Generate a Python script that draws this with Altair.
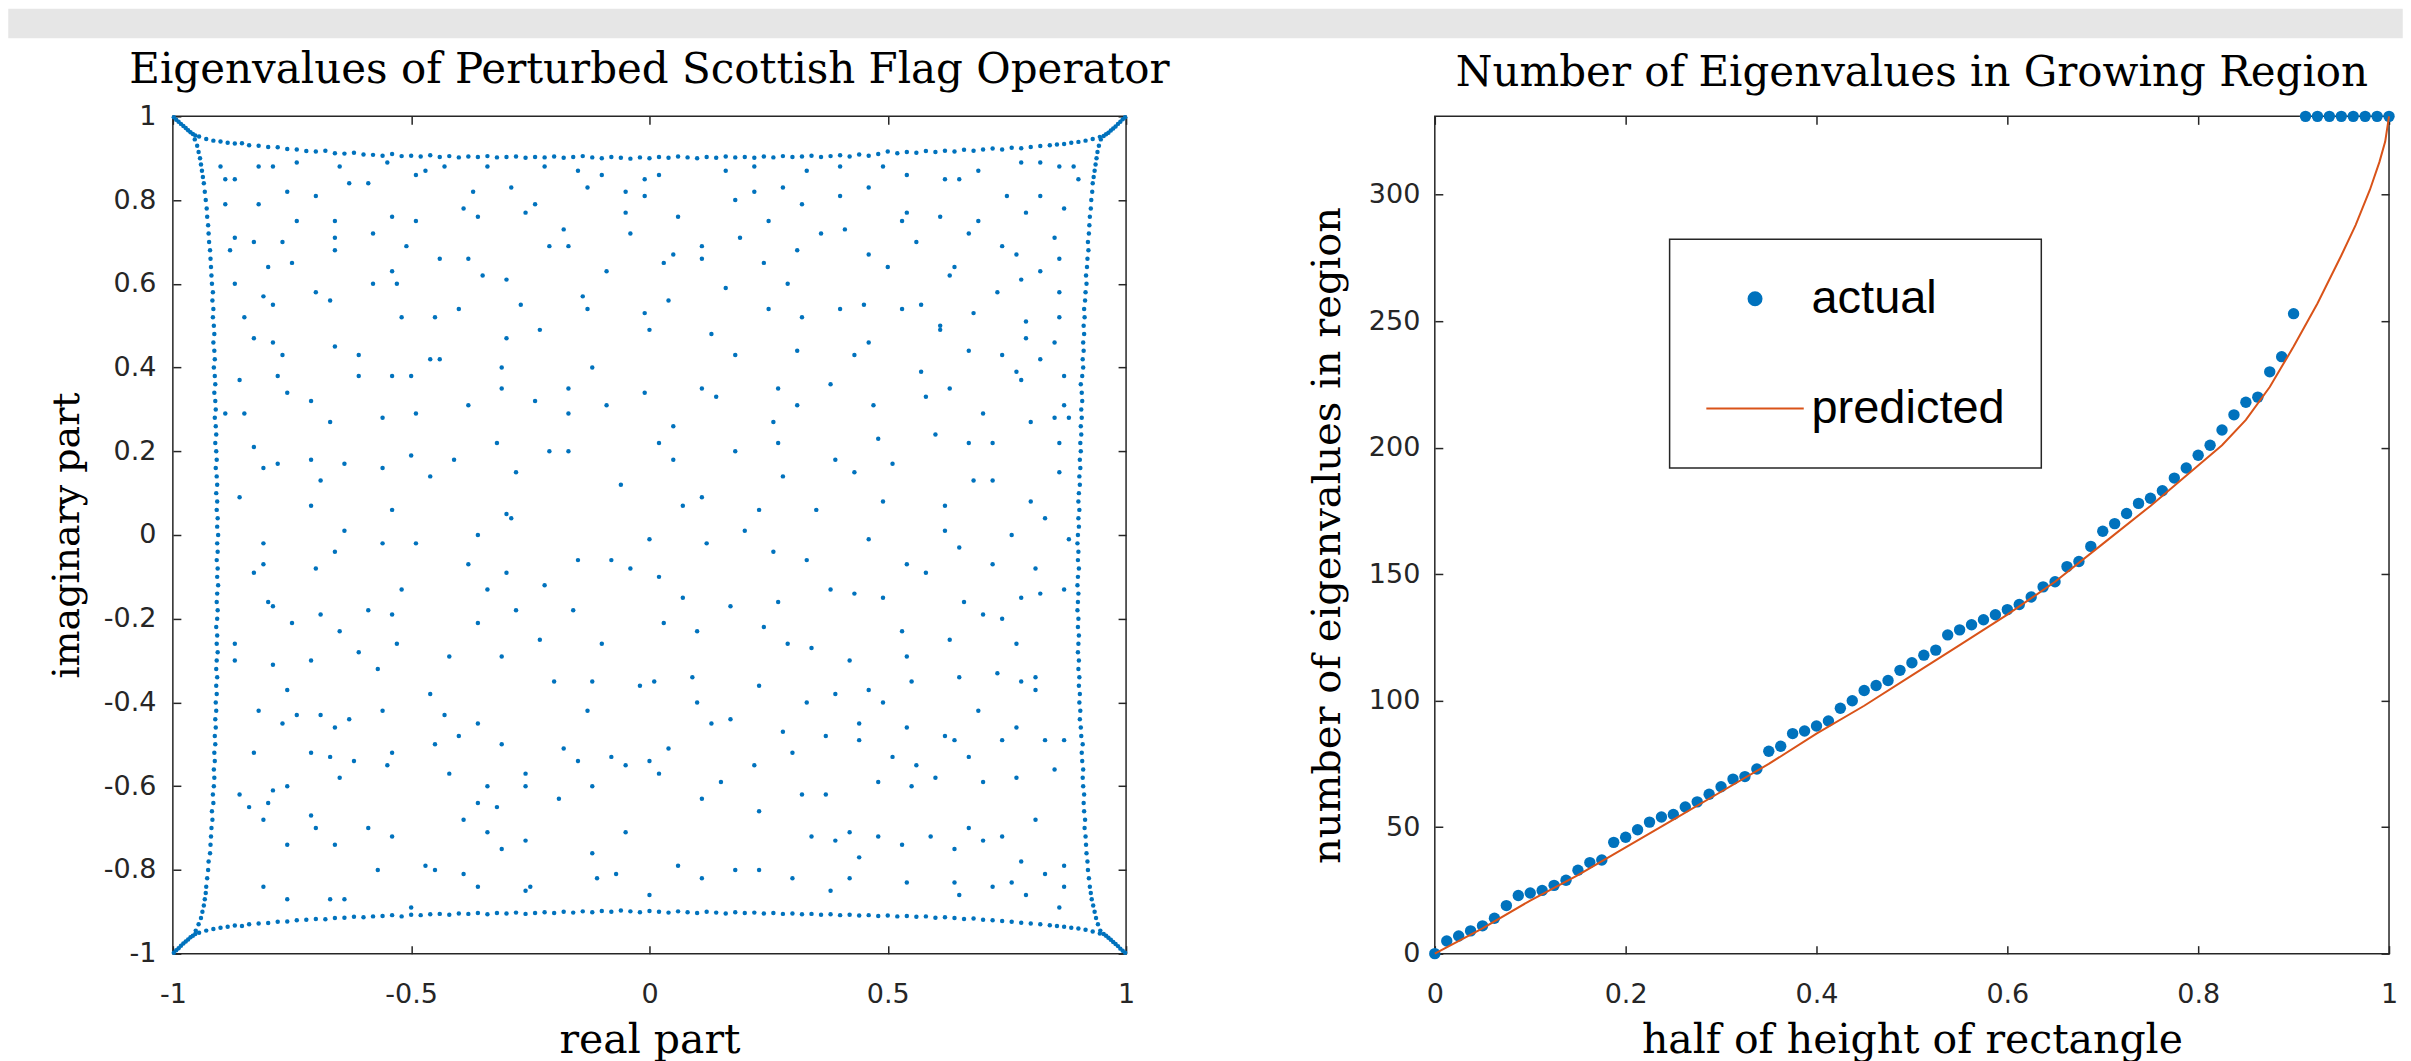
import altair as alt
import pandas as pd

# ---------------- left panel: eigenvalues ----------------
UPPER_RE = [
    -0.90, -0.89, -0.87, -0.82, -0.79, -0.74, -0.65, -0.55, -0.49, -0.47, -0.43, -0.34, -0.22, -0.15, -0.10, -0.01,
    0.02, 0.16, 0.22, 0.33, 0.40, 0.49, 0.54, 0.62, 0.65, 0.69, 0.78, 0.82, 0.86, 0.89, 0.90,
    -0.76, -0.70, -0.82, -0.89, -0.63, -0.59, -0.37, -0.29, -0.39, -0.36, -0.26, -0.24, -0.13, -0.05, -0.01, -0.05,
    0.06, 0.18, 0.22, 0.28, 0.32, 0.40, 0.46, 0.53, 0.54, 0.61, 0.69, 0.75, 0.82, 0.87, 0.79,
    -0.74, -0.66, -0.54, -0.49, -0.58, -0.51, -0.66, -0.66, -0.77, -0.83, -0.87, -0.88, -0.18, -0.17, -0.21, -0.04,
    0.05, 0.11, 0.25, 0.19, 0.31, 0.36, 0.41, 0.46, 0.56, 0.67, 0.74, 0.77, 0.85,
    -0.80, -0.75, -0.54, -0.44, -0.38, -0.35, -0.30, -0.09, 0.03, 0.11, 0.24, 0.29, 0.50, 0.63, 0.64, 0.82,
    0.86, 0.73, 0.86, 0.78, 0.16, -0.87, -0.70, -0.58, -0.53, -0.67,
    -0.81, -0.85, -0.79, -0.52, -0.45, -0.40, -0.27, -0.14, -0.13, 0.04, -0.01, 0.00, 0.25, 0.32, 0.40, 0.45,
    0.53, 0.57, 0.61, 0.68, 0.79, 0.86, 0.79,
    -0.83, -0.79, -0.77, -0.66, -0.61, -0.46, -0.44, -0.50, -0.30, -0.23, -0.12, 0.13, 0.18, 0.31, 0.46, 0.43,
    0.61, 0.57, 0.67, 0.77, 0.82, 0.87, 0.74, 0.85, -0.61,
    -0.86, -0.78, -0.76, -0.71, -0.67, -0.54, -0.56, -0.49, -0.38, -0.31, -0.31, -0.17, -0.24, -0.17, -0.09, -0.01,
    0.11, 0.14, 0.27, 0.31, 0.38, 0.47, 0.58, 0.63, 0.70, 0.78, 0.85, 0.87,
    -0.89, -0.85, -0.83, -0.78, -0.71, -0.64, -0.56, -0.50, -0.41, -0.32, -0.21, -0.17, 0.02, 0.05, 0.05, 0.18,
    0.26, 0.27, 0.48, 0.60, 0.67, 0.72, 0.80, 0.86, 0.88,
    -0.86, -0.81, -0.71, -0.69, -0.64, -0.54, -0.46, -0.30, -0.29, -0.28, -0.06, 0.07, 0.11, 0.20, 0.23, 0.28,
    0.35, 0.39, 0.43, 0.49, 0.51, 0.62, 0.62, 0.68, 0.72, 0.80, 0.83, 0.86,
]
UPPER_IM = [
    0.88, 0.85, 0.85, 0.88, 0.88, 0.89, 0.88, 0.89, 0.86, 0.87, 0.88, 0.88, 0.88, 0.87, 0.86, 0.85,
    0.86, 0.87, 0.88, 0.87, 0.88, 0.88, 0.86, 0.85, 0.85, 0.87, 0.89, 0.89, 0.88, 0.88, 0.85,
    0.82, 0.81, 0.79, 0.79, 0.84, 0.84, 0.82, 0.83, 0.78, 0.76, 0.77, 0.79, 0.83, 0.82, 0.81, 0.77,
    0.76, 0.80, 0.82, 0.83, 0.79, 0.81, 0.83, 0.75, 0.77, 0.76, 0.75, 0.81, 0.81, 0.78, 0.77,
    0.75, 0.75, 0.76, 0.75, 0.72, 0.69, 0.71, 0.68, 0.70, 0.70, 0.71, 0.68, 0.73, 0.69, 0.69, 0.72,
    0.67, 0.69, 0.75, 0.71, 0.68, 0.72, 0.73, 0.67, 0.70, 0.72, 0.69, 0.67, 0.71,
    0.64, 0.65, 0.63, 0.66, 0.66, 0.62, 0.61, 0.63, 0.65, 0.66, 0.65, 0.60, 0.64, 0.62, 0.64, 0.63,
    0.66, 0.58, 0.58, 0.61, 0.59, 0.60, 0.58, 0.60, 0.60, 0.56,
    0.57, 0.52, 0.55, 0.52, 0.52, 0.54, 0.55, 0.57, 0.54, 0.56, 0.53, 0.49, 0.54, 0.52, 0.54, 0.55,
    0.54, 0.55, 0.50, 0.53, 0.51, 0.52, 0.47,
    0.47, 0.46, 0.43, 0.45, 0.43, 0.42, 0.42, 0.38, 0.47, 0.49, 0.40, 0.48, 0.43, 0.44, 0.46, 0.43,
    0.49, 0.39, 0.44, 0.39, 0.42, 0.38, 0.43, 0.46, 0.38,
    0.37, 0.38, 0.34, 0.32, 0.27, 0.38, 0.28, 0.29, 0.31, 0.40, 0.35, 0.35, 0.32, 0.29, 0.31, 0.34,
    0.35, 0.33, 0.35, 0.31, 0.36, 0.31, 0.33, 0.35, 0.29, 0.37, 0.28, 0.31,
    0.29, 0.29, 0.21, 0.17, 0.18, 0.17, 0.16, 0.19, 0.18, 0.22, 0.20, 0.20, 0.22, 0.26, 0.18, 0.20,
    0.27, 0.22, 0.23, 0.24, 0.22, 0.22, 0.27, 0.22, 0.28,
    0.09, 0.16, 0.07, 0.13, 0.01, 0.06, 0.14, 0.05, 0.04, 0.15, 0.12, 0.07, 0.09, 0.01, 0.06, 0.14,
    0.06, 0.18, 0.15, 0.08, 0.17, 0.07, 0.01, 0.13, 0.13, 0.08, 0.04, 0.15,
]
LOWER_RE = [
    -0.81, -0.66, -0.56, -0.49, -0.36, -0.38, -0.30, -0.15, -0.08, -0.04, 0.00, 0.02, 0.12, 0.26, 0.33, 0.46,
    0.54, 0.58, 0.65, 0.72, 0.76, 0.81, 0.88, -0.83, -0.81, -0.70,
    -0.80, -0.79, -0.75, -0.69, -0.65, -0.59, -0.54, -0.52, -0.34, -0.36, -0.28, -0.22, -0.16, 0.07, 0.03, 0.17,
    0.24, 0.27, 0.38, 0.43, 0.49, 0.53, 0.66, 0.70, 0.74, 0.78, 0.82, 0.87,
    -0.87, -0.87, -0.79, -0.76, -0.71, -0.61, -0.57, -0.53, -0.42, -0.31, -0.23, -0.20, -0.12, -0.10, -0.02, 0.01,
    0.10, 0.09, 0.23, 0.29, 0.34, 0.33, 0.42, 0.54, 0.55, 0.63, 0.65, 0.73, 0.78, 0.81, 0.77,
    -0.82, -0.77, -0.74, -0.69, -0.67, -0.63, -0.62, -0.56, -0.54, -0.46, -0.43, -0.36, -0.31, -0.26, -0.18, -0.15,
    -0.13, -0.08, 0.00, 0.10, 0.13, 0.17, 0.22, 0.28, 0.30, 0.37, 0.39, 0.44, 0.44, 0.46, 0.49, 0.54,
    0.56, 0.62, 0.67, 0.69, 0.74, 0.77, 0.81, 0.87,
    -0.79, -0.76, -0.83, -0.71, -0.65, -0.66, -0.55, -0.45, -0.42, -0.40, -0.32, -0.34, -0.26, -0.19, -0.12, -0.05,
    0.02, 0.04, 0.11, 0.15, 0.23, 0.32, 0.37, 0.48, 0.51, 0.55, 0.60, 0.64, 0.70, 0.77, 0.85, 0.83,
    -0.86, -0.80, -0.84, -0.81, -0.76, -0.70, -0.71, -0.66, -0.59, -0.54, -0.57, -0.47, -0.45, -0.39, -0.39, -0.36,
    -0.34, -0.26, -0.31, -0.26, -0.12, -0.11, -0.05, -0.07, 0.00, 0.06, 0.11, 0.18, 0.23, 0.30, 0.34, 0.39,
    0.42, 0.44, 0.48, 0.53, 0.59, 0.64, 0.67, 0.70, 0.74, 0.78, 0.81, 0.87, 0.83,
    -0.81, -0.76, -0.67, -0.64, -0.50, -0.36, -0.25, 0.38, 0.42, 0.54, 0.64, 0.65, 0.72, 0.76, 0.79, 0.86, 0.87,
]
LOWER_IM = [
    -0.02, -0.04, -0.02, -0.02, 0.00, -0.07, -0.09, -0.06, -0.06, -0.08, -0.01, -0.10, -0.02, -0.04, -0.06, -0.01,
    -0.07, -0.09, -0.03, -0.07, 0.00, -0.08, -0.01, -0.09, -0.07, -0.08,
    -0.16, -0.17, -0.21, -0.19, -0.23, -0.18, -0.19, -0.13, -0.13, -0.21, -0.18, -0.12, -0.18, -0.15, -0.21, -0.17,
    -0.22, -0.16, -0.13, -0.14, -0.15, -0.23, -0.16, -0.19, -0.20, -0.15, -0.14, -0.13,
    -0.26, -0.30, -0.31, -0.37, -0.30, -0.28, -0.32, -0.26, -0.29, -0.29, -0.25, -0.35, -0.35, -0.26, -0.36, -0.35,
    -0.23, -0.34, -0.36, -0.26, -0.27, -0.40, -0.30, -0.29, -0.35, -0.25, -0.34, -0.33, -0.35, -0.34, -0.26,
    -0.42, -0.45, -0.43, -0.43, -0.53, -0.44, -0.54, -0.42, -0.52, -0.38, -0.43, -0.45, -0.50, -0.57, -0.51, -0.54,
    -0.42, -0.53, -0.54, -0.40, -0.45, -0.44, -0.55, -0.47, -0.52, -0.48, -0.38, -0.45, -0.49, -0.37, -0.40, -0.46,
    -0.55, -0.48, -0.53, -0.42, -0.49, -0.46, -0.37, -0.49,
    -0.61, -0.60, -0.52, -0.52, -0.58, -0.46, -0.55, -0.50, -0.57, -0.48, -0.65, -0.60, -0.60, -0.63, -0.60, -0.55,
    -0.57, -0.51, -0.63, -0.59, -0.66, -0.62, -0.62, -0.59, -0.53, -0.60, -0.58, -0.49, -0.59, -0.58, -0.56, -0.49,
    -0.62, -0.64, -0.65, -0.68, -0.74, -0.70, -0.67, -0.74, -0.70, -0.72, -0.80, -0.79, -0.80, -0.81, -0.68, -0.64,
    -0.71, -0.73, -0.75, -0.85, -0.76, -0.82, -0.71, -0.81, -0.86, -0.79, -0.82, -0.80, -0.80, -0.82, -0.72, -0.73,
    -0.71, -0.77, -0.72, -0.74, -0.72, -0.75, -0.70, -0.73, -0.72, -0.78, -0.68, -0.79, -0.81,
    -0.84, -0.87, -0.87, -0.87, -0.89, -0.84, -0.84, -0.85, -0.82, -0.83, -0.83, -0.86, -0.84, -0.83, -0.86, -0.89, -0.84,
]

# positions along the four crowded edges (x for top/bottom, y for left/right)
EDGE_POS = [
    -0.945, -0.93, -0.915, -0.9, -0.885, -0.87, -0.855, -0.84,
    -0.82, -0.80, -0.78, -0.76, -0.74, -0.72, -0.70, -0.68, -0.66, -0.64, -0.62, -0.60, -0.58, -0.56, -0.54,
    -0.52, -0.50, -0.48, -0.46, -0.44, -0.42, -0.40, -0.38, -0.36, -0.34, -0.32, -0.30, -0.28, -0.26, -0.24,
    -0.22, -0.20, -0.18, -0.16, -0.14, -0.12, -0.10, -0.08, -0.06, -0.04, -0.02,
    0.00,
    0.02, 0.04, 0.06, 0.08, 0.10, 0.12, 0.14, 0.16, 0.18, 0.20, 0.22, 0.24, 0.26, 0.28, 0.30, 0.32, 0.34,
    0.36, 0.38, 0.40, 0.42, 0.44, 0.46, 0.48, 0.50, 0.52, 0.54, 0.56, 0.58, 0.60, 0.62, 0.64, 0.66, 0.68,
    0.70, 0.72, 0.74, 0.76, 0.78, 0.80, 0.82,
    0.84, 0.855, 0.87, 0.885, 0.90, 0.915, 0.93, 0.945,
]
TOP_IM = [
    0.952, 0.946, 0.942, 0.940, 0.937, 0.935, 0.936, 0.931,
    0.930, 0.927, 0.926, 0.922, 0.921, 0.917, 0.916, 0.918, 0.912, 0.911, 0.913, 0.909, 0.908, 0.906, 0.910,
    0.905, 0.906, 0.904, 0.907, 0.903, 0.905, 0.902, 0.904, 0.903, 0.905, 0.902, 0.903, 0.904, 0.901, 0.903,
    0.902, 0.904, 0.901, 0.903, 0.905, 0.902, 0.900, 0.903, 0.901, 0.899, 0.902,
    0.900,
    0.903, 0.901, 0.904, 0.902, 0.900, 0.903, 0.901, 0.904, 0.902, 0.903, 0.901, 0.904, 0.902, 0.905, 0.903,
    0.904, 0.906, 0.903, 0.905, 0.907, 0.904, 0.909, 0.906, 0.910, 0.916, 0.912, 0.915, 0.913, 0.917, 0.915,
    0.918, 0.916, 0.920, 0.918, 0.921, 0.923, 0.921, 0.925, 0.924, 0.927, 0.929,
    0.931, 0.933, 0.934, 0.937, 0.939, 0.942, 0.946, 0.951,
]
BOTTOM_IM = [
    -0.950, -0.945, -0.941, -0.938, -0.936, -0.933, -0.934, -0.930,
    -0.928, -0.927, -0.924, -0.923, -0.920, -0.919, -0.917, -0.918, -0.915, -0.914, -0.912, -0.913, -0.911,
    -0.910, -0.908, -0.911, -0.907, -0.908, -0.906, -0.905, -0.907, -0.904, -0.905, -0.903, -0.906, -0.903,
    -0.904, -0.902, -0.905, -0.903, -0.901, -0.903, -0.900, -0.902, -0.899, -0.901, -0.898, -0.900, -0.897,
    -0.899, -0.901,
    -0.898,
    -0.900, -0.902, -0.899, -0.901, -0.903, -0.900, -0.902, -0.904, -0.901, -0.903, -0.902, -0.904, -0.903,
    -0.905, -0.904, -0.906, -0.905, -0.907, -0.906, -0.908, -0.907, -0.909, -0.908, -0.910, -0.909, -0.911,
    -0.910, -0.912, -0.911, -0.914, -0.913, -0.915, -0.917, -0.916, -0.919, -0.920, -0.922, -0.924, -0.926,
    -0.928, -0.930,
    -0.932, -0.934, -0.936, -0.938, -0.940, -0.943, -0.947, -0.952,
]
LEFT_RE = [
    -0.952, -0.946, -0.941, -0.938, -0.935, -0.933, -0.931, -0.930,
    -0.928, -0.926, -0.925, -0.922, -0.921, -0.920, -0.919, -0.917, -0.918, -0.915, -0.916, -0.914, -0.913,
    -0.914, -0.912, -0.913, -0.911, -0.912, -0.910, -0.911, -0.909, -0.910, -0.908, -0.909, -0.907, -0.909,
    -0.908, -0.906, -0.908, -0.907, -0.909, -0.907, -0.906, -0.908, -0.907, -0.905, -0.907, -0.906, -0.908,
    -0.906, -0.907,
    -0.905,
    -0.907, -0.906, -0.908, -0.907, -0.909, -0.907, -0.908, -0.910, -0.908, -0.909, -0.911, -0.909, -0.910,
    -0.912, -0.910, -0.911, -0.913, -0.911, -0.912, -0.914, -0.912, -0.913, -0.915, -0.913, -0.914, -0.916,
    -0.915, -0.917, -0.916, -0.918, -0.919, -0.920, -0.921, -0.922, -0.924, -0.925, -0.926, -0.928, -0.929,
    -0.931, -0.933,
    -0.935, -0.937, -0.939, -0.941, -0.943, -0.946, -0.949, -0.954,
]
RIGHT_RE = [
    0.946, 0.941, 0.937, 0.934, 0.931, 0.928, 0.926, 0.924,
    0.922, 0.920, 0.919, 0.917, 0.916, 0.915, 0.913, 0.914, 0.912, 0.911, 0.912, 0.910, 0.909, 0.910, 0.908,
    0.907, 0.909, 0.906, 0.905, 0.903, 0.904, 0.902, 0.903, 0.901, 0.902, 0.900, 0.901, 0.899, 0.900, 0.901,
    0.899, 0.900, 0.898, 0.899, 0.900, 0.898, 0.899, 0.901, 0.899, 0.900, 0.898,
    0.899,
    0.901, 0.900, 0.902, 0.900, 0.901, 0.903, 0.902, 0.904, 0.903, 0.905, 0.904, 0.906, 0.905, 0.907, 0.906,
    0.908, 0.907, 0.905, 0.908, 0.910, 0.909, 0.911, 0.910, 0.912, 0.911, 0.913, 0.912, 0.914, 0.915, 0.917,
    0.916, 0.918, 0.919, 0.921, 0.920, 0.922, 0.923, 0.924, 0.926, 0.927, 0.929,
    0.930, 0.932, 0.934, 0.936, 0.938, 0.940, 0.943, 0.947,
]
CORNER_RE = [
    -0.998, -0.993, -0.988, -0.983, -0.978, -0.973, -0.968, -0.963, -0.958, -0.953,
    0.998, 0.993, 0.988, 0.983, 0.978, 0.973, 0.968, 0.963, 0.958, 0.953,
    -0.998, -0.993, -0.988, -0.983, -0.978, -0.973, -0.968, -0.963, -0.958, -0.953,
    0.998, 0.993, 0.988, 0.983, 0.978, 0.973, 0.968, 0.963, 0.958, 0.953,
]
CORNER_IM = [
    0.998, 0.992, 0.987, 0.982, 0.977, 0.972, 0.967, 0.962, 0.958, 0.954,
    0.998, 0.993, 0.987, 0.982, 0.976, 0.971, 0.966, 0.961, 0.957, 0.953,
    -0.998, -0.992, -0.987, -0.981, -0.976, -0.971, -0.966, -0.961, -0.957, -0.953,
    -0.998, -0.993, -0.988, -0.982, -0.977, -0.972, -0.967, -0.962, -0.957, -0.953,
]

# ---------------- right panel ----------------
ACTUAL_H = [
    0, 0.0125, 0.025, 0.0375, 0.05, 0.0625, 0.075, 0.0875, 0.1, 0.1125, 0.125, 0.1375, 0.15, 0.1625, 0.175,
    0.1875, 0.2, 0.2125, 0.225, 0.2375, 0.25, 0.2625, 0.275, 0.2875, 0.3, 0.3125, 0.325, 0.3375, 0.35, 0.3625,
    0.375, 0.3875, 0.4, 0.4125, 0.425, 0.4375, 0.45, 0.4625, 0.475, 0.4875, 0.5, 0.5125, 0.525, 0.5375, 0.55,
    0.5625, 0.575, 0.5875, 0.6, 0.6125, 0.625, 0.6375, 0.65, 0.6625, 0.675, 0.6875, 0.7, 0.7125, 0.725, 0.7375,
    0.75, 0.7625, 0.775, 0.7875, 0.8, 0.8125, 0.825, 0.8375, 0.85, 0.8625, 0.875, 0.8875, 0.9, 0.9125, 0.925,
    0.9375, 0.95, 0.9625, 0.975, 0.9875, 1.0,
]
ACTUAL_N = [
    0, 5, 7, 9, 11, 14, 19, 23, 24, 25, 27, 29, 33, 36, 37, 44, 46, 49, 52, 54,
    55, 58, 60, 63, 66, 69, 70, 73, 80, 82, 87, 88, 90, 92, 97, 100, 104, 106, 108, 112,
    115, 118, 120, 126, 128, 130, 132, 134, 136, 138, 141, 145, 147, 153, 155, 161, 167, 170, 174, 178,
    180, 183, 188, 192, 197, 201, 207, 213, 218, 220, 230, 236, 253,
    331, 331, 331, 331, 331, 331, 331, 331,
]
PRED_H = [0, 0.05, 0.1, 0.15, 0.2, 0.25, 0.3, 0.35, 0.4, 0.45, 0.5, 0.55, 0.6, 0.65, 0.7, 0.75, 0.8,
          0.825, 0.85, 0.875, 0.9, 0.925, 0.95, 0.965, 0.98, 0.99, 0.996, 1.0]
PRED_N = [0, 10, 21, 31, 42, 53, 64, 75, 87, 98, 110, 122, 134, 147, 162, 177, 193,
          201, 211, 224, 240, 257, 276, 288, 302, 313, 321, 331]
SERIES = ["actual", "predicted"]

X1_TICKS = [-1, -0.5, 0, 0.5, 1]
Y1_TICKS = [-1, -0.8, -0.6, -0.4, -0.2, 0, 0.2, 0.4, 0.6, 0.8, 1]
X2_TICKS = [0, 0.2, 0.4, 0.6, 0.8, 1]
Y2_TICKS = [0, 50, 100, 150, 200, 250, 300]
ANCHOR = [0.0]

# ---------------- style ----------------
BLUE = "#0072BD"
ORANGE = "#D95319"
INK = "#262626"
BAND = "#e6e6e6"
W1, W2, H = 954, 955, 838
TICK_LEN = 8
LABEL_EXPR = "replace(format(datum.value, '~g'), '\u2212', '-')"


def label_axis(orient, values, title, label_pad, title_pad, title_size):
    return alt.Axis(
        orient=orient, values=values, labelExpr=LABEL_EXPR, ticks=False, tickSize=0,
        domain=False, grid=False, labelFont="DejaVu Sans", labelFontSize=27, labelColor=INK,
        labelPadding=label_pad, labelFlush=False, labelOverlap=False,
        title=title, titleFont="DejaVu Serif", titleFontSize=title_size, titleFontWeight="normal",
        titleColor="black", titlePadding=title_pad,
    )


def tick_axis(orient, values, offset):
    return alt.Axis(
        orient=orient, values=values, offset=offset, labels=False, domain=False, grid=False,
        ticks=True, tickSize=TICK_LEN, tickColor=INK, tickWidth=1.5,
    )


def panel_title(text, offset):
    return alt.TitleParams(
        text=text, font="DejaVu Serif", fontSize=42, fontWeight="normal", color="black",
        anchor="middle", frame="group", baseline="alphabetic", offset=offset,
    )


# ---------------- left chart ----------------
eig = pd.DataFrame({
    "re": UPPER_RE + LOWER_RE + EDGE_POS + EDGE_POS + LEFT_RE + RIGHT_RE + CORNER_RE,
    "im": UPPER_IM + LOWER_IM + TOP_IM + BOTTOM_IM + EDGE_POS + EDGE_POS + CORNER_IM,
})
anchor1 = pd.DataFrame({"re": ANCHOR, "im": ANCHOR})
xs1 = alt.Scale(domain=[-1, 1], nice=False, zero=False)
ys1 = alt.Scale(domain=[-1, 1], nice=False, zero=False)

eig_pts = alt.Chart(eig).mark_circle(size=20, color=BLUE, opacity=1).encode(
    x=alt.X("re:Q", scale=xs1, axis=label_axis("bottom", X1_TICKS, "real part", 28, 13, 41)),
    y=alt.Y("im:Q", scale=ys1, axis=label_axis("left", Y1_TICKS, "imaginary part", 17, 17, 38)),
)
eig_ticks_a = alt.Chart(anchor1).mark_point(opacity=0).encode(
    x=alt.X("re:Q", scale=xs1, title=None, axis=tick_axis("top", X1_TICKS, -H)),
    y=alt.Y("im:Q", scale=ys1, title=None, axis=tick_axis("right", Y1_TICKS, -W1)),
)
eig_ticks_b = alt.Chart(anchor1).mark_point(opacity=0).encode(
    x=alt.X("re:Q", scale=xs1, title=None, axis=tick_axis("bottom", X1_TICKS, -H)),
    y=alt.Y("im:Q", scale=ys1, title=None, axis=tick_axis("left", Y1_TICKS, -W1)),
)
left = alt.layer(eig_pts, eig_ticks_a, eig_ticks_b).resolve_axis(
    x="independent", y="independent"
).properties(width=W1, height=H, title=panel_title("Eigenvalues of Perturbed Scottish Flag Operator", -23))

# ---------------- right chart ----------------
act = pd.DataFrame({"h": ACTUAL_H, "n": ACTUAL_N, "series": [SERIES[0]] * len(ACTUAL_H)})
pred = pd.DataFrame({"h": PRED_H, "n": PRED_N})
anchor2 = pd.DataFrame({"h": ANCHOR, "n": ANCHOR})
xs2 = alt.Scale(domain=[0, 1], nice=False, zero=False)
ys2 = alt.Scale(domain=[0, 331], nice=False, zero=False)
series_color = alt.Scale(domain=SERIES, range=[BLUE, ORANGE])
series_shape = alt.Scale(domain=SERIES, range=["circle", "M-7.5,0L7.5,0"])

legend = alt.Legend(
    orient="none", legendX=235, legendY=123, direction="vertical", title=None,
    labelFont="Liberation Sans", labelFontSize=47, labelColor="black", labelLimit=400,
    labelOffset=33, symbolOffset=26, symbolSize=169, symbolStrokeWidth=2, symbolOpacity=1,
    rowPadding=62, padding=36, strokeColor=INK, fillColor="white",
)

act_pts = alt.Chart(act).mark_point(filled=True, size=130, opacity=1, strokeWidth=0).encode(
    x=alt.X("h:Q", scale=xs2, axis=label_axis("bottom", X2_TICKS, "half of height of rectangle", 28, 13, 41)),
    y=alt.Y("n:Q", scale=ys2, axis=label_axis("left", Y2_TICKS, "number of eigenvalues in region", 15, 21, 40)),
    fill=alt.Fill("series:N", scale=series_color, legend=legend),
    stroke=alt.Stroke("series:N", scale=series_color, legend=legend),
    shape=alt.Shape("series:N", scale=series_shape, legend=legend),
)
pred_line = alt.Chart(pred).mark_line(color=ORANGE, strokeWidth=2).encode(
    x=alt.X("h:Q", scale=xs2, title=None, axis=tick_axis("top", X2_TICKS, -H)),
    y=alt.Y("n:Q", scale=ys2, title=None, axis=tick_axis("right", Y2_TICKS, -W2)),
)
right_ticks = alt.Chart(anchor2).mark_point(opacity=0).encode(
    x=alt.X("h:Q", scale=xs2, title=None, axis=tick_axis("bottom", X2_TICKS, -H)),
    y=alt.Y("n:Q", scale=ys2, title=None, axis=tick_axis("left", Y2_TICKS, -W2)),
)
right = alt.layer(act_pts, pred_line, right_ticks).resolve_axis(
    x="independent", y="independent"
).properties(width=W2, height=H, title=panel_title("Number of Eigenvalues in Growing Region", -17))

# ---------------- page furniture ----------------
band = alt.Chart(pd.DataFrame({"v": ANCHOR})).mark_point(opacity=0).encode(
    x=alt.value(20), y=alt.value(10)
).properties(width=2395, height=28, view=alt.ViewBackground(fill=BAND, stroke=BAND))

spacer = alt.Chart(pd.DataFrame({"v": ANCHOR})).mark_point(opacity=0).encode(
    x=alt.value(20), y=alt.value(5)
).properties(width=37, height=10, view=alt.ViewBackground(stroke="transparent"))

LEG_RES = dict(fill="independent", stroke="independent", shape="independent")
inner = alt.hconcat(left, right, spacing=135).resolve_legend(**LEG_RES)
row = alt.hconcat(spacer, inner, spacing=0).resolve_legend(**LEG_RES)

chart = alt.vconcat(band, row, spacing=10).resolve_legend(**LEG_RES).configure_view(
    stroke=INK, strokeWidth=1.5
).configure_legend(strokeWidth=1.5).properties(padding=0, background="white")

chart.save("out.html", embed_options={"renderer": "svg", "actions": False})
